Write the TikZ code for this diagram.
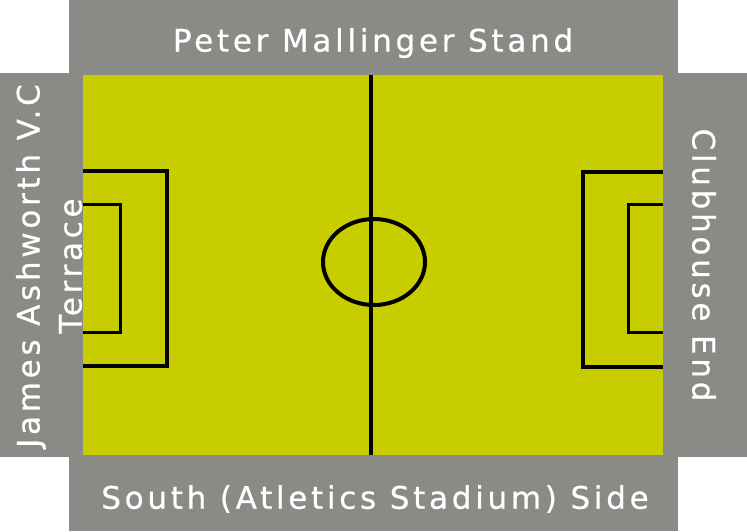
\documentclass[tikz,border=0pt]{standalone}
\usepackage{fontspec}
\setmainfont{DejaVu Sans}[LetterSpace=12, FakeBold=0.6]
\usetikzlibrary{positioning}
\definecolor{standgrey}{RGB}{138,138,134}
\definecolor{pitchgreen}{RGB}{200,205,0}
\tikzset{
  stand/.style={text=white, inner sep=0pt, font=\fontsize{31}{42}\selectfont},
  bigline/.style={line width=4pt},
  smallline/.style={line width=3pt}
}

\begin{document}
\begin{tikzpicture}[x=1pt,y=-1pt]
  \useasboundingbox (0,0) rectangle (747,531);
  % stands around the pitch
  \fill[standgrey] (69,0) rectangle (678,531);
  \fill[standgrey] (0,73) rectangle (747,457);
  % pitch
  \fill[pitchgreen] (83,75) rectangle (663,455);
  % halfway line and centre circle
  \draw[bigline] (371,75) -- (371,455);
  \draw[bigline] (374,262) ellipse [x radius=51, y radius=43];
  % left boxes
  \draw[bigline] (83,171) -- (167,171) -- (167,366) -- (83,366);
  \draw[smallline] (83,204) -- (120,204) -- (120,332) -- (83,332);
  % right boxes
  \draw[bigline] (663,172) -- (583,172) -- (583,367) -- (663,367);
  \draw[smallline] (663,204) -- (628,204) -- (628,332) -- (663,332);
  % stand names
  \node[stand] (north) at (373,43) {Peter Mallinger Stand};
  \node[stand] (south) at (375,499) {South (Atletics Stadium) Side};
  \node[stand, rotate=90, align=center] (west) at (49,266) {James Ashworth V.C\\Terrace};
  \node[stand, rotate=-90] (east) at (704,265) {Clubhouse End};
\end{tikzpicture}
\end{document}
